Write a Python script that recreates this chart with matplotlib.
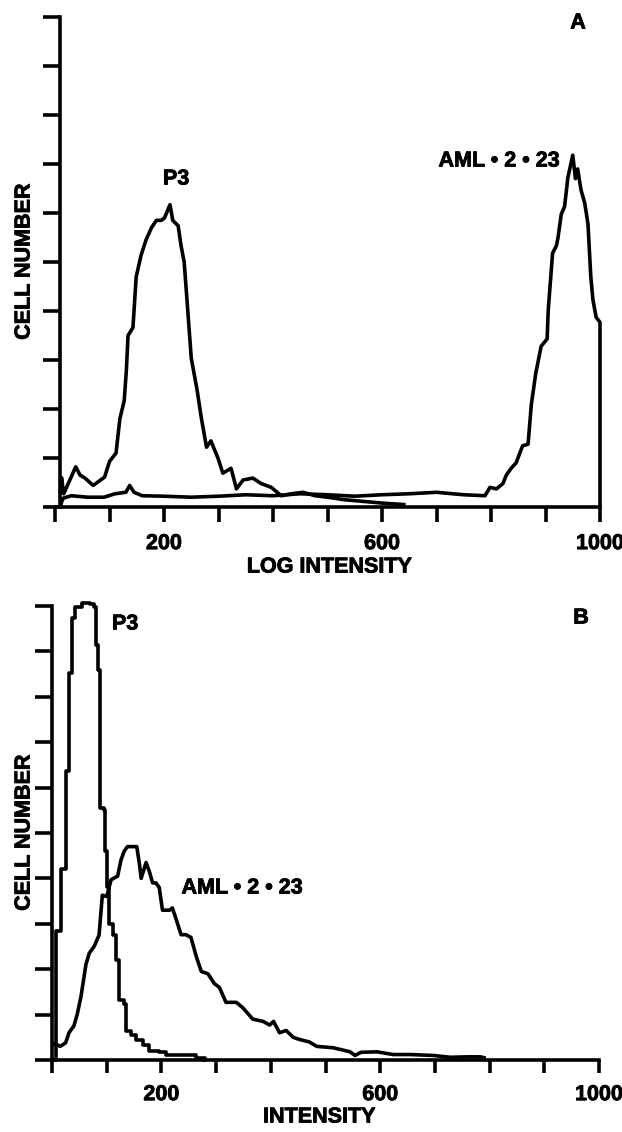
import matplotlib.pyplot as plt
import matplotlib.patheffects as pe

plt.rcParams["font.family"] = ["Liberation Sans", "DejaVu Sans"]
plt.rcParams["font.weight"] = "bold"

# panel A: log intensity histograms
p3a_x = [10, 12, 16, 38, 46, 55, 70, 91, 100, 112, 119, 127, 131, 134, 143, 149, 158,
         167, 177, 186, 195, 201, 211, 216, 226, 231, 237, 244, 250, 261, 268, 278, 286,
         299, 308, 323, 333, 345, 363, 378, 397, 415, 434, 455, 477, 500, 530, 560, 600, 640]
p3a_y = [0.3, 0.6, 0.27, 0.82, 0.65, 0.59, 0.44, 0.61, 0.93, 1.1, 1.8, 2.17, 2.8, 3.5, 3.66, 4.7, 5.14,
         5.45, 5.7, 5.85, 5.85, 5.9, 6.17, 5.85, 5.74, 5.35, 5.0, 3.95, 3.04, 2.37, 1.85, 1.22, 1.35,
         1.0, 0.69, 0.79, 0.37, 0.55, 0.59, 0.48, 0.4, 0.23, 0.27, 0.3, 0.23, 0.2, 0.15, 0.12, 0.08, 0.05]

amla_x = [10, 12, 15, 30, 60, 90, 110, 130, 137, 145, 160, 200, 250, 300, 350, 400, 450, 500, 550, 600,
          650, 700, 750, 789, 798, 810, 822, 828, 837, 846, 858, 868, 874, 882, 892, 903, 905, 913, 920, 923,
          929, 935, 941, 950, 955, 959, 965, 972, 978, 983, 987, 993, 1000, 1000]
amla_y = [0.0, 0.1, 0.18, 0.23, 0.2, 0.2, 0.27, 0.3, 0.44, 0.3, 0.23, 0.22, 0.2, 0.22, 0.25, 0.23, 0.27, 0.25, 0.22, 0.25,
          0.27, 0.3, 0.25, 0.23, 0.4, 0.37, 0.48, 0.65, 0.79, 0.9, 1.25, 1.28, 2.09, 2.72, 3.28, 3.43, 4.02, 5.18, 5.33, 5.5,
          5.98, 6.13, 6.72, 7.18, 6.7, 6.9, 6.48, 6.2, 5.77, 4.72, 4.23, 3.87, 3.77, 0]

# panel B: linear intensity histograms
p3b_x = [0, 5, 7, 16, 25, 31, 37, 42, 55, 70, 77, 80, 85, 88, 95, 97, 101, 105, 111, 117,
         123, 132, 135, 144, 153, 166, 178, 196, 209, 239, 264, 280]
p3b_y = [0, 0, 2.84, 4.2, 6.37, 8.53, 9.73, 9.97, 10.07, 10.05, 9.97, 9.13, 8.6, 5.56, 5.5, 4.6, 3.8, 3.0, 2.76, 2.2,
         1.32, 1.23, 0.63, 0.56, 0.43, 0.32, 0.19, 0.17, 0.1, 0.1, 0.05, 0.0]

amlb_x = [5, 7, 15, 25, 31, 40, 46, 53, 62, 68, 77, 86, 92, 100, 108, 120, 126, 132, 138, 147,
          155, 160, 163, 172, 178, 184, 190, 196, 202, 215, 220, 227, 236, 245, 254, 264, 273, 285, 297, 306,
          318, 337, 349, 367, 386, 398, 405, 416, 428, 441, 453, 470, 484, 514, 545, 554, 565, 594, 624, 655,
          697, 728, 760, 783, 790]
amlb_y = [0.35, 0.35, 0.3, 0.38, 0.6, 0.75, 1.0, 1.4, 2.1, 2.35, 2.5, 2.75, 3.63, 3.6, 3.97, 4.05, 4.4, 4.6, 4.7, 4.7,
          4.7, 4.3, 4.0, 4.35, 4.15, 3.9, 3.9, 3.8, 3.3, 3.3, 3.35, 3.1, 2.76, 2.76, 2.7, 2.27, 1.95, 1.9, 1.68, 1.6,
          1.27, 1.27, 1.15, 0.9, 0.85, 0.77, 0.85, 0.6, 0.65, 0.5, 0.45, 0.4, 0.3, 0.27, 0.18, 0.1, 0.17, 0.18, 0.12, 0.12,
          0.1, 0.06, 0.07, 0.07, 0.05]

x_ticks = list(range(0, 1001, 100))
x_ticklabels = ["200" if t == 200 else "600" if t == 600 else "1000" if t == 1000 else "" for t in x_ticks]
y_ticks = list(range(0, 11))

FS = 15.5
LW = 2.6
BOLDER = [pe.withStroke(linewidth=0.6, foreground="black")]


def style_axis(ax, left_pos, xtick_len):
    ax.set_xlim(0, 1000)
    ax.set_ylim(0, 10)
    for side in ("top", "right"):
        ax.spines[side].set_visible(False)
    ax.spines["left"].set_position(("data", left_pos))
    for side in ("left", "bottom"):
        ax.spines[side].set_linewidth(LW)
    ax.set_xticks(x_ticks)
    ax.set_xticklabels(x_ticklabels, fontsize=FS, fontweight="bold")
    for lbl in ax.get_xticklabels():
        lbl.set_path_effects(BOLDER)
    ax.set_yticks(y_ticks)
    ax.set_yticklabels([])
    ax.tick_params(axis="y", length=12.2, width=LW, direction="out")
    ax.tick_params(axis="x", length=xtick_len, width=LW, direction="out", pad=8)
    ax.patch.set_visible(False)


fig = plt.figure(figsize=(6.22, 11.32), dpi=100)

ax_a = fig.add_axes([55 / 622, 1 - 507 / 1132, 545 / 622, 490 / 1132])
style_axis(ax_a, 10, 10.8)
ax_a.plot(p3a_x, p3a_y, color="black", lw=LW, clip_on=False)
ax_a.plot(amla_x, amla_y, color="black", lw=LW, clip_on=False)

ax_b = fig.add_axes([52 / 622, 1 - 1060 / 1132, 547 / 622, 454 / 1132])
style_axis(ax_b, 0, 9.4)
ax_b.plot(p3b_x, p3b_y, color="black", lw=LW, drawstyle="steps-post", clip_on=False)
ax_b.plot(amlb_x, amlb_y, color="black", lw=LW, clip_on=False)


def ftext(x, y, s, **kw):
    fig.text(x / 622, 1 - y / 1132, s, fontsize=FS, fontweight="bold", ha="center", va="center",
             path_effects=BOLDER, **kw)


ftext(578, 23, "A")
ftext(176, 179, "P3")
ftext(499, 161, "AML • 2 • 23")
ftext(329, 567, "LOG INTENSITY")
ftext(24, 262, "CELL NUMBER", rotation=90)

ftext(581, 618, "B")
ftext(125, 624, "P3")
ftext(242, 888, "AML • 2 • 23")
ftext(319, 1117, "INTENSITY")
ftext(24, 833, "CELL NUMBER", rotation=90)

fig.savefig("out.png", dpi=100, facecolor="white")
